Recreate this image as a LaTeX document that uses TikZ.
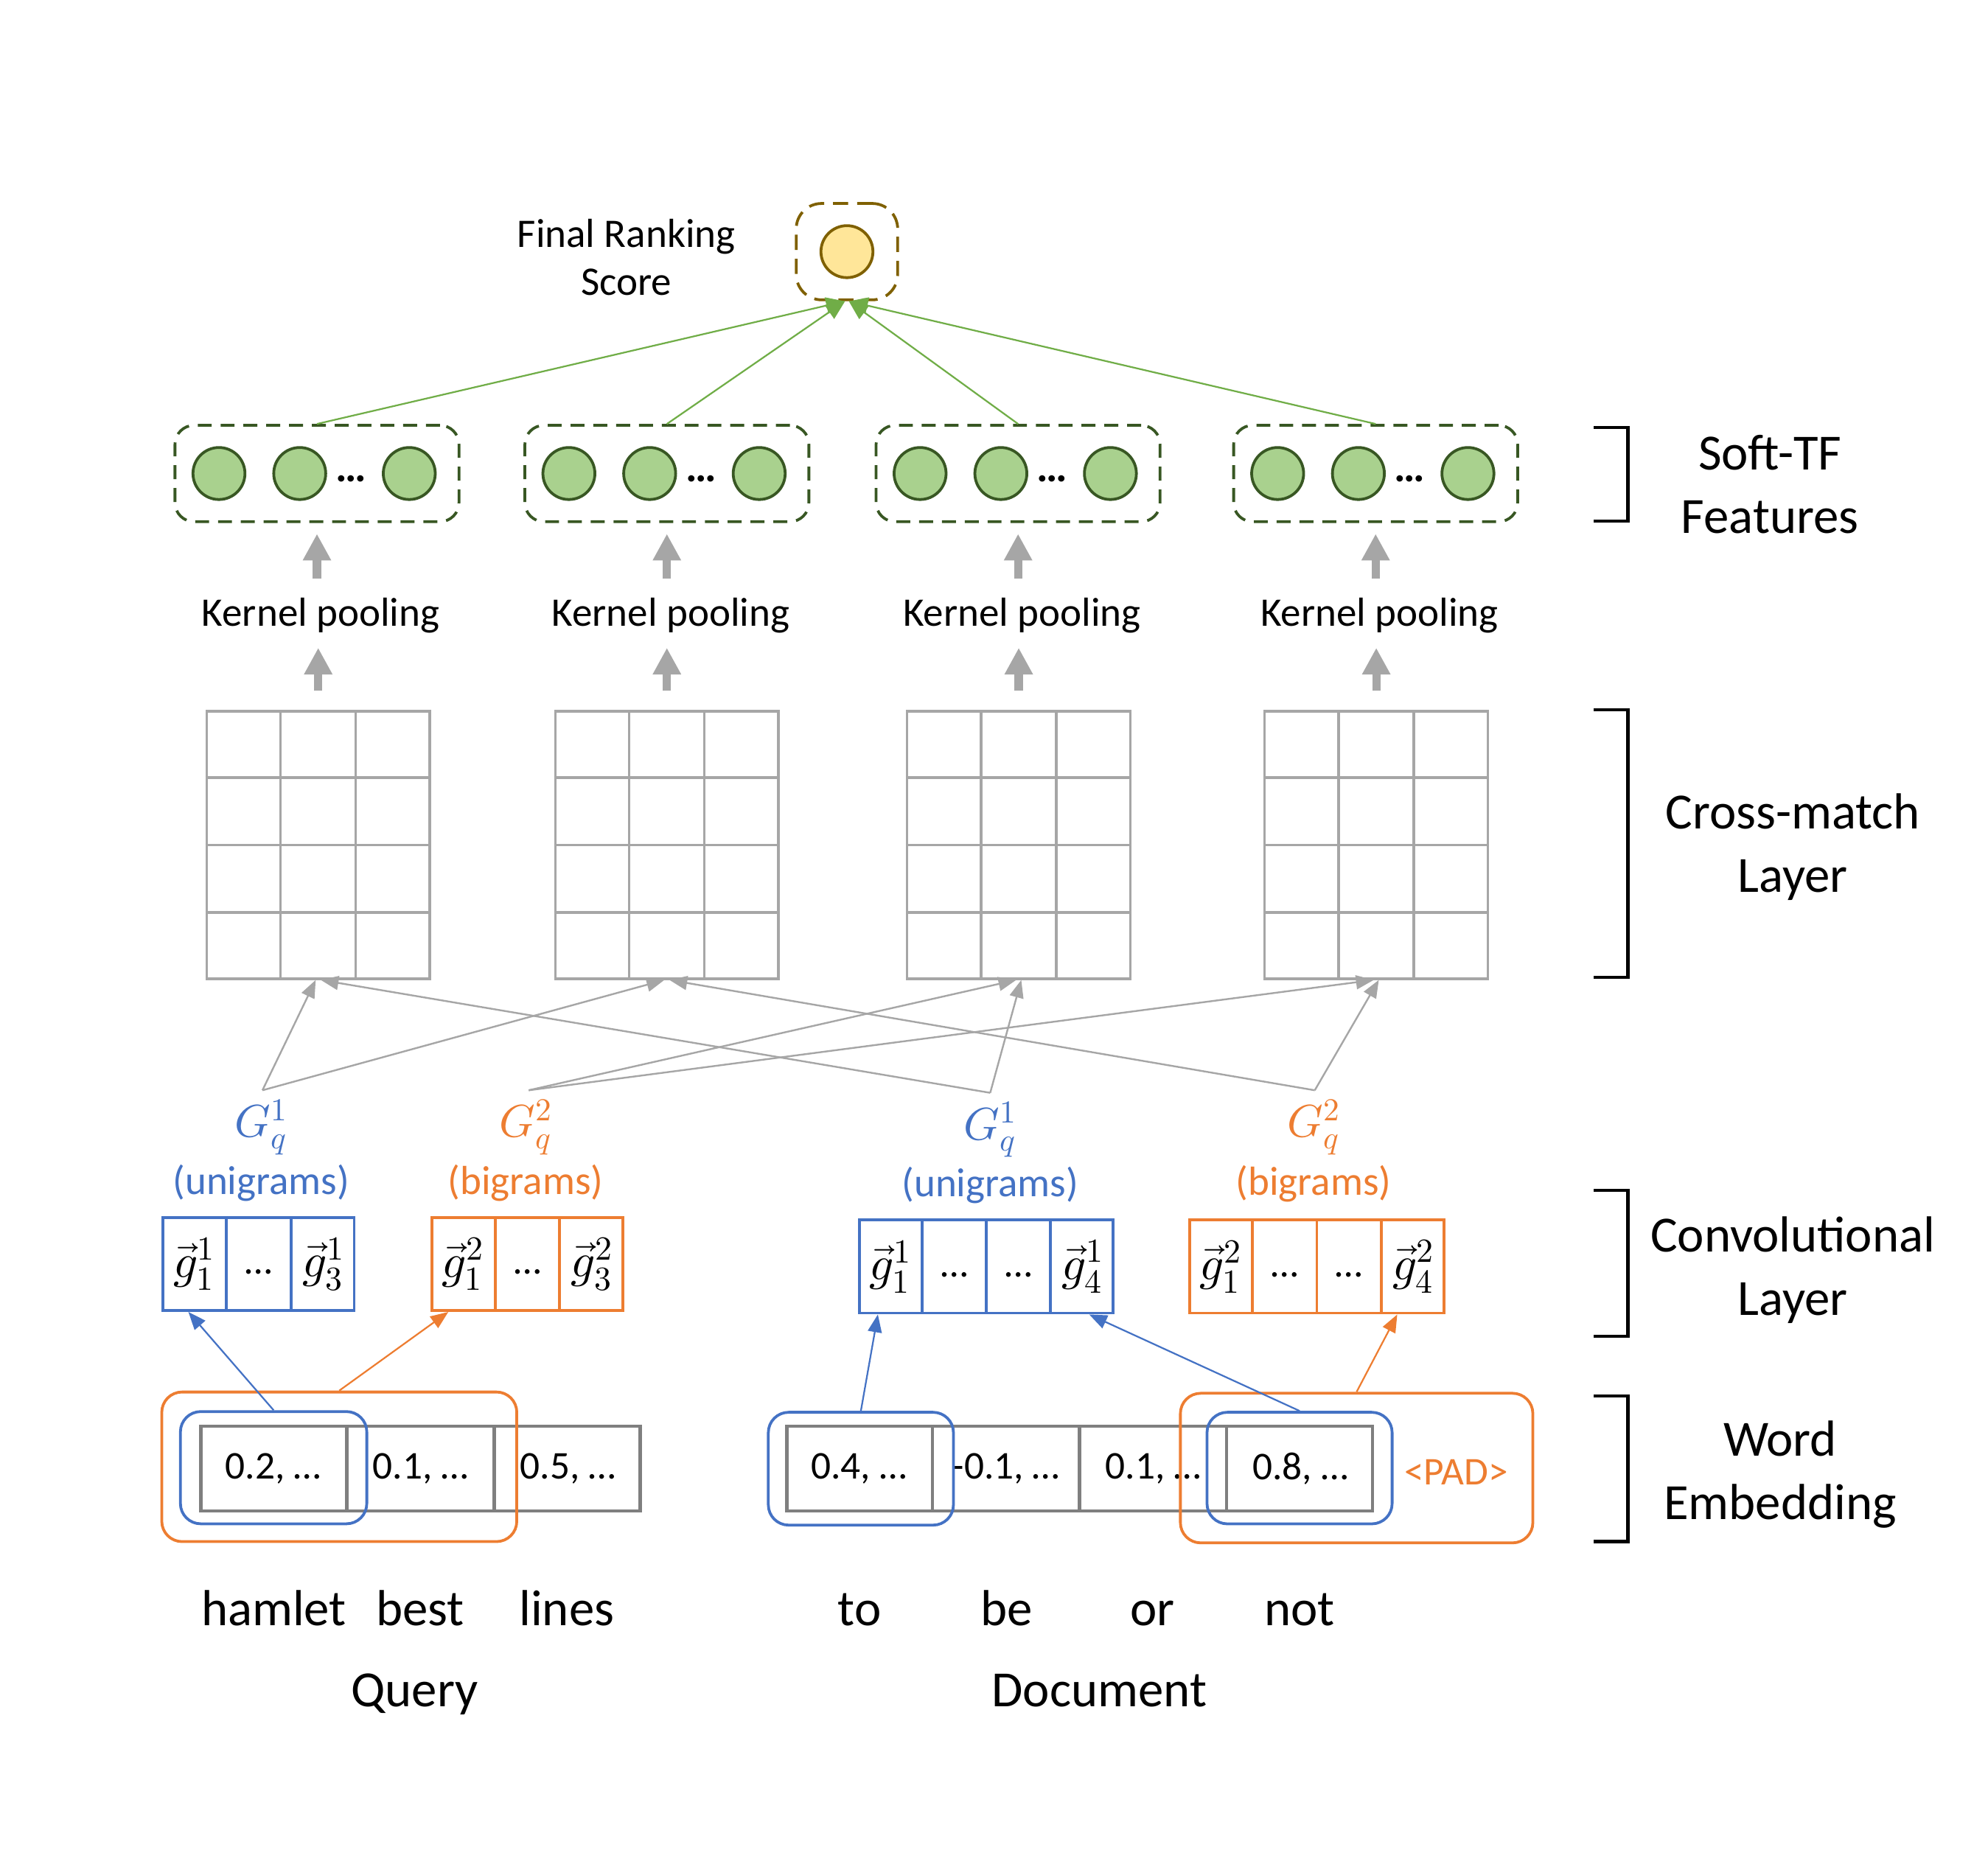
\documentclass[tikz,border=0pt]{standalone}
\usepackage{fontspec}
\usepackage{unicode-math}
\setmainfont{Carlito}
\setmathfont{Latin Modern Math}
\usetikzlibrary{arrows.meta,calc}
\definecolor{cblue}{HTML}{4472C4}
\definecolor{corange}{HTML}{ED7D31}
\definecolor{cgreen}{HTML}{70AD47}
\definecolor{cdg}{HTML}{385723}
\definecolor{clg}{HTML}{A9D18E}
\definecolor{cyel}{HTML}{FFE699}
\definecolor{cgold}{HTML}{7F6000}
\definecolor{cgrid}{HTML}{A6A6A6}
\definecolor{cemb}{HTML}{7F7F7F}
\begin{document}
\begin{tikzpicture}[x=1pt,y=-1pt,
  lbl/.style={font=\fontsize{32}{38}\selectfont, inner sep=0pt},
  mlbl/.style={font=\fontsize{36}{40}\selectfont, inner sep=0pt},
  big/.style={font=\fontsize{40}{50}\selectfont, align=center, inner sep=0pt},
  cell/.style={font=\fontsize{31}{36}\selectfont, inner sep=0pt},
  gvec/.style={font=\fontsize{38}{40}\selectfont, inner sep=0pt},
  dots/.style={font=\fontsize{31}{36}\selectfont, inner sep=0pt, anchor=base},
  softbox/.style={draw=cdg, line width=2.2pt, dash pattern=on 11pt off 7pt, rounded corners=15pt, minimum width=224pt, minimum height=76pt, inner sep=0pt},
  neuron/.style={circle, draw=cdg, fill=clg, line width=2.2pt, minimum size=41pt, inner sep=0pt},
  gridbox/.style={draw=cgrid, line width=2pt, minimum width=176pt, minimum height=211pt, inner sep=0pt},
  gridline/.style={draw=cgrid, line width=2pt},
  fat/.style={draw=cgrid, line width=6.5pt, -{Triangle[length=21pt,width=21pt]}},
  xarrow/.style={draw=cgrid, line width=1.4pt, -{Triangle[length=14pt,width=11pt]}},
  garrow/.style={draw=cgreen, line width=1.3pt, -{Triangle[length=15pt,width=13pt]}},
  barrow/.style={draw=cblue, line width=1.3pt, -{Triangle[length=14pt,width=11pt]}},
  oarrow/.style={draw=corange, line width=1.3pt, -{Triangle[length=14pt,width=11pt]}},
  convbox/.style={line width=2.2pt, minimum height=73.5pt, inner sep=0pt},
  embbox/.style={draw=cemb, line width=2.5pt, minimum height=67pt, inner sep=0pt},
  grp/.style={line width=2.2pt, rounded corners=16pt, inner sep=0pt},
  bracket/.style={draw=black, line width=2.5pt}
]
\useasboundingbox (0,0) rectangle (1568,1470);

% ---------- final score ----------
\node[draw=cgold, line width=2.2pt, dash pattern=on 12pt off 7pt, rounded corners=20pt,
      minimum width=80pt, minimum height=76pt, inner sep=0pt] (fin) at (668,198.5) {};
\node[circle, draw=cgold, fill=cyel, line width=2.2pt, minimum size=41pt, inner sep=0pt] (score) at (fin.center) {};
\node[lbl, align=center] (finlbl) at (494,203) {Final Ranking\\Score};

% ---------- soft-TF feature boxes, kernel pooling, grids ----------
\foreach \i/\cx in {1/250,2/526,3/803,4/1085} {
  \node[softbox] (sf\i) at (\cx,373.5) {};
  \node[neuron] (n\i a) at (\cx-77.3,373.5) {};
  \node[neuron] (n\i b) at (\cx-13.6,373.5) {};
  \node[neuron] (n\i c) at (\cx+72.8,373.5) {};
  \node[font=\fontsize{34}{40}\selectfont\bfseries, inner sep=0pt, anchor=base] (d\i) at (\cx+27,380) {…};
  \node[lbl, anchor=base] (kp\i) at (\cx+3,494) {Kernel pooling};
}
\foreach \i/\cx in {1/251,2/526,3/803.5,4/1085.5} {
  \node[gridbox] (g\i) at (\cx,666.5) {};
  \foreach \j in {1,2}
    \draw[gridline] ($(g\i.north west)!\j/3!(g\i.north east)$) -- ($(g\i.south west)!\j/3!(g\i.south east)$);
  \foreach \j in {1,2,3}
    \draw[gridline] ($(g\i.north west)!\j/4!(g\i.south west)$) -- ($(g\i.north east)!\j/4!(g\i.south east)$);
}
\foreach \i in {1,2,3,4} {
  \draw[fat] ($(g\i.north)+(0,-15)$) -- ($(g\i.north)+(0,-49)$);
  \draw[fat] ($(sf\i.south)+(0,44)$) -- ($(sf\i.south)+(0,8.5)$);
}
\draw[garrow] (sf1.north) -- ([xshift=-1.5pt]fin.south);
\draw[garrow] (sf2.north) -- ([xshift=-1.5pt]fin.south);
\draw[garrow] (sf3.north) -- ([xshift=1.5pt]fin.south);
\draw[garrow] (sf4.north) -- ([xshift=1.5pt]fin.south);

% ---------- n-gram labels ----------
\node[mlbl, text=cblue] (gq1) at (206,889) {$G_q^1$};
\node[lbl, text=cblue] (un1) at (206,933) {(unigrams)};
\node[mlbl, text=corange] (gq2) at (414.5,889) {$G_q^2$};
\node[lbl, text=corange] (bi1) at (414.5,933) {(bigrams)};
\node[mlbl, text=cblue] (gd1) at (781,891) {$G_q^1$};
\node[lbl, text=cblue] (un2) at (781,935) {(unigrams)};
\node[mlbl, text=corange] (gd2) at (1036,889) {$G_q^2$};
\node[lbl, text=corange] (bi2) at (1036,934) {(bigrams)};

\coordinate (p1) at (207,860);
\coordinate (p2) at (417,860);
\coordinate (p3) at (781,862);
\coordinate (p4) at (1037,860);
\draw[xarrow] (p1) -- ([xshift=-2pt]g1.south);
\draw[xarrow] (p1) -- ([xshift=-2pt]g2.south);
\draw[xarrow] (p2) -- ([xshift=-2pt]g3.south);
\draw[xarrow] (p2) -- ([xshift=-2pt]g4.south);
\draw[xarrow] (p3) -- ([xshift=2pt]g1.south);
\draw[xarrow] (p3) -- ([xshift=2pt]g3.south);
\draw[xarrow] (p4) -- ([xshift=2pt]g2.south);
\draw[xarrow] (p4) -- ([xshift=2pt]g4.south);

% ---------- convolutional layer ----------
\node[convbox, draw=cblue, minimum width=150.6pt] (qu) at (204,997) {};
\node[convbox, draw=corange, minimum width=150.6pt] (qb) at (416,997) {};
\node[convbox, draw=cblue, minimum width=200pt] (du) at (778,999) {};
\node[convbox, draw=corange, minimum width=200.7pt] (db) at (1038.6,999) {};
\foreach \j in {1,2} {
  \draw[line width=2.2pt, draw=cblue] ($(qu.north west)!\j/3!(qu.north east)$) -- ($(qu.south west)!\j/3!(qu.south east)$);
  \draw[line width=2.2pt, draw=corange] ($(qb.north west)!\j/3!(qb.north east)$) -- ($(qb.south west)!\j/3!(qb.south east)$);
}
\foreach \j in {1,2,3} {
  \draw[line width=2.2pt, draw=cblue] ($(du.north west)!\j/4!(du.north east)$) -- ($(du.south west)!\j/4!(du.south east)$);
  \draw[line width=2.2pt, draw=corange] ($(db.north west)!\j/4!(db.north east)$) -- ($(db.south west)!\j/4!(db.south east)$);
}
\node[gvec] (qu1) at ($(qu.west)!1/6!(qu.east)$) {$\vec{g}_1^{1}$};
\node[dots] (qu2) at ($(qu.west)!3/6!(qu.east)+(0,8)$) {…};
\node[gvec] (qu3) at ($(qu.west)!5/6!(qu.east)$) {$\vec{g}_3^{1}$};
\node[gvec] (qb1) at ($(qb.west)!1/6!(qb.east)$) {$\vec{g}_1^{2}$};
\node[dots] (qb2) at ($(qb.west)!3/6!(qb.east)+(0,8)$) {…};
\node[gvec] (qb3) at ($(qb.west)!5/6!(qb.east)$) {$\vec{g}_3^{2}$};
\node[gvec] (du1) at ($(du.west)!1/8!(du.east)$) {$\vec{g}_1^{1}$};
\node[dots] (du2) at ($(du.west)!3/8!(du.east)+(0,8)$) {…};
\node[dots] (du3) at ($(du.west)!5/8!(du.east)+(0,8)$) {…};
\node[gvec] (du4) at ($(du.west)!7/8!(du.east)$) {$\vec{g}_4^{1}$};
\node[gvec] (db1) at ($(db.west)!1/8!(db.east)$) {$\vec{g}_1^{2}$};
\node[dots] (db2) at ($(db.west)!3/8!(db.east)+(0,8)$) {…};
\node[dots] (db3) at ($(db.west)!5/8!(db.east)+(0,8)$) {…};
\node[gvec] (db4) at ($(db.west)!7/8!(db.east)$) {$\vec{g}_4^{2}$};

% ---------- word embeddings ----------
\node[embbox, minimum width=346.6pt] (qe) at (331.7,1158.5) {};
\foreach \j in {1,2}
  \draw[draw=cemb, line width=2.5pt] ($(qe.north west)!\j/3!(qe.north east)$) -- ($(qe.south west)!\j/3!(qe.south east)$);
\node[cell] (qe1) at ($(qe.west)!1/6!(qe.east)$) {0.2, …};
\node[cell] (qe2) at ($(qe.west)!3/6!(qe.east)$) {0.1, …};
\node[cell] (qe3) at ($(qe.west)!5/6!(qe.east)$) {0.5, …};

\node[embbox, minimum width=461.8pt] (de) at (851.5,1158.5) {};
\foreach \j in {1,2,3}
  \draw[draw=cemb, line width=2.5pt] ($(de.north west)!\j/4!(de.north east)$) -- ($(de.south west)!\j/4!(de.south east)$);
\node[cell] (de1) at ($(de.west)!1/8!(de.east)$) {0.4, …};
\node[cell] (de2) at ($(de.west)!3/8!(de.east)$) {-0.1, …};
\node[cell] (de3) at ($(de.west)!5/8!(de.east)$) {0.1, …};
\node[cell] (de4) at ($(de.west)!7/8!(de.east)$) {0.8, …};

\node[grp, draw=cblue, minimum width=147pt, minimum height=88.5pt] (qgu) at (215.8,1157.7) {};
\node[grp, draw=corange, minimum width=280pt, minimum height=118pt] (qgb) at (267.6,1157) {};
\node[grp, draw=cblue, minimum width=146pt, minimum height=89pt] (dgu1) at (679,1158.5) {};
\node[grp, draw=cblue, minimum width=146pt, minimum height=88pt] (dgu2) at (1025,1158) {};
\node[grp, draw=corange, minimum width=278pt, minimum height=118pt] (dgb) at (1070,1158) {};
\node[cell, text=corange] (pad) at (1148.5,1161) {\textless PAD\textgreater};

\draw[barrow] (qgu.north) -- ($(qu.south west)+(21,0)$);
\draw[oarrow] (qgb.north) -- ($(qb.south west)+(14,0)$);
\draw[barrow] (dgu1.north) -- ($(du.south west)+(15.5,0)$);
\draw[barrow] (dgu2.north) -- ($(du.south east)+(-20,0)$);
\draw[oarrow] (dgb.north) -- ($(db.south east)+(-38,0)$);

% ---------- words ----------
\node[big, anchor=base] (w1) at (216,1282) {hamlet};
\node[big, anchor=base] (w2) at (331.5,1282) {best};
\node[big, anchor=base] (w3) at (447,1282) {lines};
\node[big, anchor=base] (w4) at (678,1282) {to};
\node[big, anchor=base] (w5) at (794,1282) {be};
\node[big, anchor=base] (w6) at (909,1282) {or};
\node[big, anchor=base] (w7) at (1025,1282) {not};
\node[big, anchor=base] (query) at (327,1346) {Query};
\node[big, anchor=base] (doc) at (867,1346) {Document};

% ---------- right-hand brackets ----------
\draw[bracket] (1257,337) -- (1284,337) -- (1284,411) -- (1257,411);
\draw[bracket] (1257,560) -- (1284,560) -- (1284,771) -- (1257,771);
\draw[bracket] (1257,939) -- (1284,939) -- (1284,1054) -- (1257,1054);
\draw[bracket] (1257,1101) -- (1284,1101) -- (1284,1216) -- (1257,1216);
\node[big] (lsoft) at (1396,382) {Soft-TF\\Features};
\node[big] (lcross) at (1414,668) {Cross-match\\Layer};
\node[big] (lconv) at (1414,1002) {Convolutional\\Layer};
\node[big] (lword) at (1404,1163) {Word\\Embedding};
\end{tikzpicture}
\end{document}
